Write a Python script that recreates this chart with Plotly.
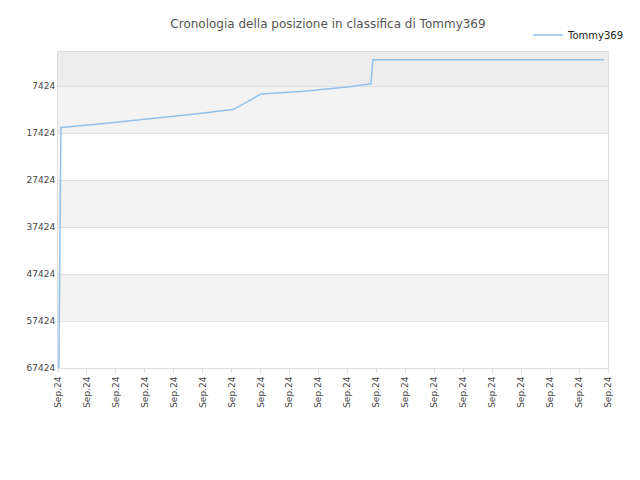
import plotly.graph_objects as go

# ranking history (x = position along the time axis, y = ranking)
giorni = [0.03, 0.1, 1.5, 3.0, 4.5, 6.05, 7.01, 8.5, 10.0, 10.81, 10.88, 15.0, 18.86]
posizione = [67424, 16200, 15400, 14500, 13500, 12400, 9100, 8500, 7600, 6900, 1800, 1800, 1800]

tick_x = list(range(20))
tick_lbl = ["Sep.24"] * 20
tick_y = [7424, 17424, 27424, 37424, 47424, 57424, 67424]
tick_y_lbl = [str(v) for v in tick_y]
bande = [(133, 7424, "#ededed"), (7424, 17424, "#f3f3f3"), (27424, 37424, "#f3f3f3"),
         (47424, 57424, "#f3f3f3")]

fig = go.Figure()
fig.add_trace(go.Scatter(x=giorni, y=posizione, mode="lines", name="Tommy369",
                         line=dict(color="#90c2f0", width=1.5)))

for y0, y1, col in bande:
    fig.add_shape(type="rect", xref="paper", yref="y", x0=0, x1=1, y0=y0, y1=y1,
                  fillcolor=col, line_width=0, layer="below")

fig.update_layout(
    width=640, height=480, paper_bgcolor="white", plot_bgcolor="white",
    margin=dict(l=50, r=40, t=40, b=120),
    font=dict(family="DejaVu Sans", size=9, color="#444"),
    title=dict(text="Cronologia della posizione in classifica di Tommy369", x=0.5, y=0.975,
               xanchor="center", font=dict(size=12, color="#555")),
    showlegend=True,
    legend=dict(x=1.04, y=1.1, xanchor="right", yanchor="top", font=dict(size=10, color="#222"),
                bgcolor="rgba(0,0,0,0)"),
    xaxis=dict(range=[0, 19], tickvals=tick_x, ticktext=tick_lbl, tickangle=-90,
               automargin=False, showgrid=False, zeroline=False, showline=True,
               linecolor="#ddd", mirror=True, ticks="outside", ticklen=4, tickcolor="#ddd"),
    yaxis=dict(range=[67424, 133], tickvals=tick_y, ticktext=tick_y_lbl, automargin=False,
               showgrid=True, gridcolor="#e0e0e0", zeroline=False, showline=True,
               linecolor="#ddd", mirror=True, ticks=""),
)
fig.write_html("out.html")
